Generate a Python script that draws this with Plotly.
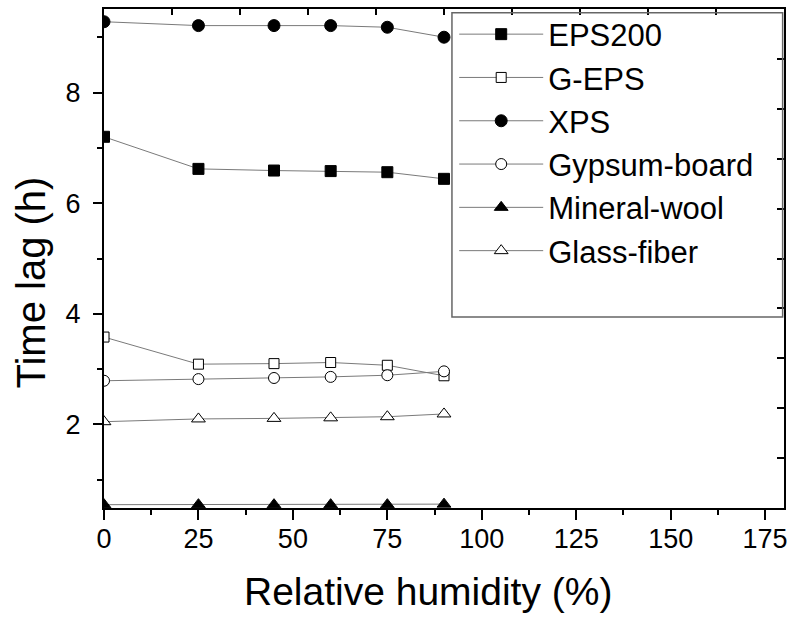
import plotly.graph_objects as go

# Relative humidity levels (%)
rh = [0, 25, 45, 60, 75, 90]

# Time lag (h) per material
eps200 = [7.20, 6.62, 6.59, 6.58, 6.56, 6.44]
g_eps = [3.58, 3.09, 3.10, 3.12, 3.07, 2.88]
xps = [9.28, 9.21, 9.21, 9.21, 9.18, 9.00]
gypsum = [2.79, 2.82, 2.84, 2.86, 2.89, 2.96]
mineral_wool = [0.55, 0.55, 0.55, 0.55, 0.55, 0.56]
glass_fiber = [2.05, 2.10, 2.11, 2.12, 2.14, 2.19]

x_ticks = [0, 25, 50, 75, 100, 125, 150, 175]
y_ticks = [2, 4, 6, 8]

FONT = "Arial, Liberation Sans, sans-serif"
LINE_GREY = "#7a7a7a"

series = [
    ("EPS200", eps200, "square", "black", 11),
    ("G-EPS", g_eps, "square", "white", 10),
    ("XPS", xps, "circle", "black", 12),
    ("Gypsum-board", gypsum, "circle", "white", 11),
    ("Mineral-wool", mineral_wool, "triangle-up", "black", 12),
    ("Glass-fiber", glass_fiber, "triangle-up", "white", 12),
]

fig = go.Figure()
for name, vals, sym, fill, size in series:
    fig.add_trace(go.Scatter(
        x=rh, y=vals, name=name, mode="lines+markers",
        line=dict(color=LINE_GREY, width=1),
        marker=dict(symbol=sym, size=size, color=fill,
                    line=dict(color="black", width=1)),
        cliponaxis=True,
    ))

# empty trace so the inward-ticked top/right frame axes are rendered
fig.add_trace(go.Scatter(x=[None], y=[None], xaxis="x2", yaxis="y2",
                         showlegend=False, hoverinfo="skip"))

axis_common = dict(showgrid=False, zeroline=False, linecolor="black",
                   linewidth=2, tickcolor="black", tickwidth=1.5)

fig.update_layout(
    width=796, height=622,
    margin=dict(l=104, r=8, t=9, b=114),
    paper_bgcolor="white", plot_bgcolor="white",
    font=dict(family=FONT, color="black"),
    xaxis=dict(
        range=[0, 180], tickvals=x_ticks, ticks="outside", ticklen=10,
        tickfont=dict(size=27, family=FONT), ticklabelstandoff=-4,
        minor=dict(dtick=12.5, tick0=0, ticks="outside", ticklen=5,
                   tickcolor="black", tickwidth=1.5),
        **axis_common,
    ),
    yaxis=dict(
        range=[0.49, 9.51], tickvals=y_ticks, ticks="outside", ticklen=9,
        tickfont=dict(size=27, family=FONT), ticklabelstandoff=7,
        minor=dict(dtick=1, tick0=1, ticks="outside", ticklen=5,
                   tickcolor="black", tickwidth=1.5),
        **axis_common,
    ),
    xaxis2=dict(
        overlaying="x", side="top", anchor="y2", range=[0, 10], dtick=1,
        ticks="inside", ticklen=6, showticklabels=False, **axis_common,
    ),
    yaxis2=dict(
        overlaying="y", side="right", anchor="x2", range=[0, 10], dtick=1,
        ticks="inside", ticklen=7, showticklabels=False, **axis_common,
    ),
    showlegend=True,
    legend=dict(
        x=0.515, y=1.003, xanchor="left", yanchor="top",
        bgcolor="rgba(255,255,255,0)", borderwidth=0,
        font=dict(size=31, family=FONT), itemwidth=84,
        tracegroupgap=0,
    ),
    annotations=[
        dict(text="Relative humidity (%)", xref="paper", yref="paper",
             x=0.4766, y=-0.168, xanchor="center", yanchor="middle",
             showarrow=False, font=dict(size=39, family=FONT)),
        dict(text="Time lag (h)", xref="paper", yref="paper",
             x=-0.108, y=0.451, xanchor="center", yanchor="middle",
             textangle=-90, showarrow=False, font=dict(size=40, family=FONT)),
    ],
    shapes=[
        dict(type="rect", xref="paper", yref="paper",
             x0=0.5117, x1=0.998, y0=0.3828, y1=0.9926,
             line=dict(color="#666666", width=1.5), fillcolor="rgba(0,0,0,0)",
             layer="above"),
    ],
)

fig.write_html("out.html")
